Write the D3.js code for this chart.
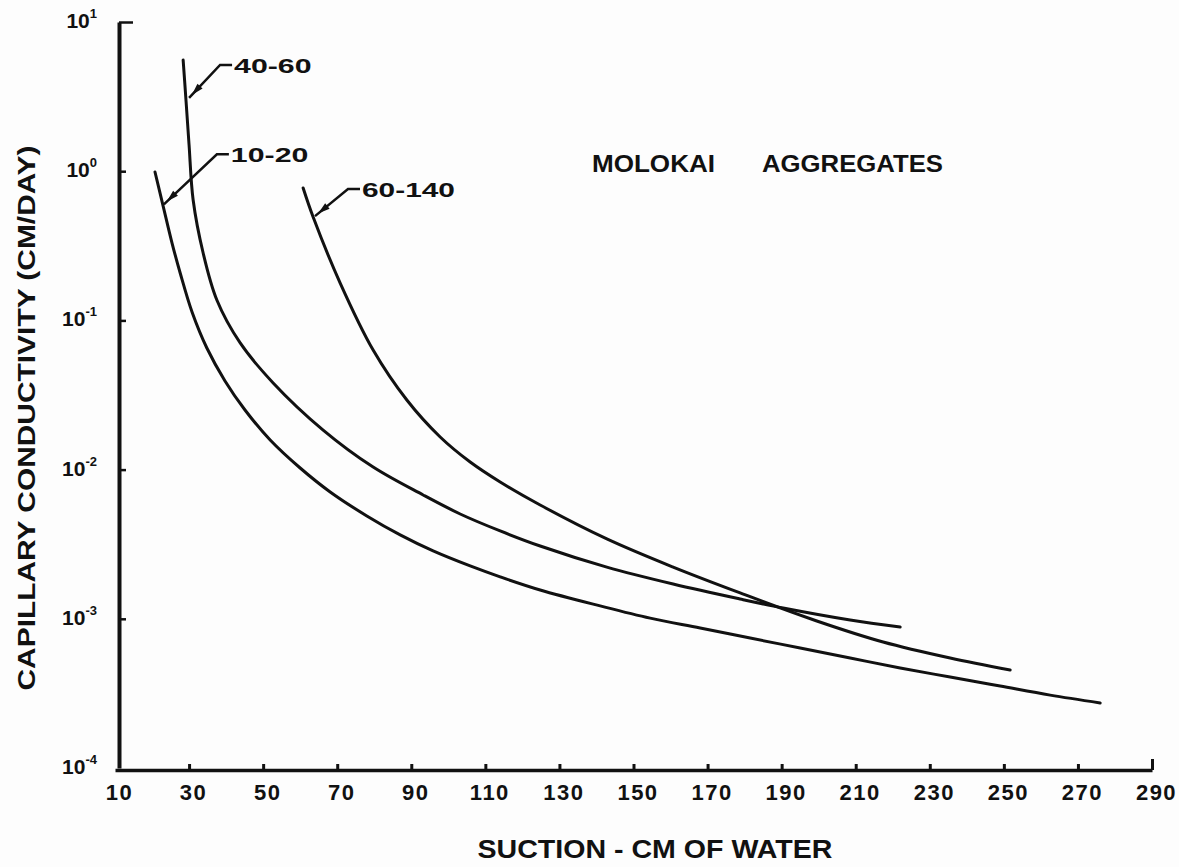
<!DOCTYPE html>
<html>
<head>
<meta charset="utf-8">
<script src="https://cdn.jsdelivr.net/npm/d3@7"></script>
<style>
  body { margin: 0; background: #fdfdfd; }
  text { font-family: "Liberation Sans", Arial, sans-serif; font-weight: bold; fill: #111; }
</style>
</head>
<body>
<div id="chart"></div>
<script>
// Suction (cm of water) ticks and conductivity decades
const suctionTicks = [10, 30, 50, 70, 90, 110, 130, 150, 170, 190, 210, 230, 250, 270, 290];
const decadeExponents = [1, 0, -1, -2, -3, -4];

// Curves: suction (cm) -> capillary conductivity (cm/day)
const suction1020 = [20.8, 23.0, 25.4, 27.6, 30.8, 34.8, 39.7, 45.1, 51.9, 60.0, 68.1, 78.0, 87.0, 95.9,
  105.9, 114.0, 124.8, 141.0, 154.5, 168.0, 181.5, 195.0, 208.5, 222.0, 235.5, 249.0, 262.5, 276.0];
const cond1020 = [0.988, 0.584, 0.33, 0.2078, 0.1138, 0.0653, 0.0393, 0.0251, 0.0158, 0.01025, 0.00708,
  0.00489, 0.00365, 0.00285, 0.00226, 0.00191, 0.00156, 0.00122, 0.00101, 0.000868, 0.000743, 0.000637,
  0.000546, 0.000468, 0.000407, 0.000354, 0.000308, 0.000273];

const suction4060 = [28.4, 29.2, 30.0, 31.1, 33.8, 37.5, 43.8, 52.7, 66.2, 79.7, 93.2, 103.2, 114.0, 124.8,
  142.8, 160.7, 178.8, 190.4, 208.5, 222.0];
const cond4060 = [5.56, 2.91, 1.498, 0.641, 0.283, 0.137, 0.0706, 0.0381, 0.0184, 0.0104, 0.00676, 0.00504,
  0.00388, 0.003075, 0.00222, 0.00171, 0.001357, 0.001182, 0.000982, 0.000881];

const suction60140 = [60.8, 63.5, 70.8, 79.7, 88.8, 97.8, 105.9, 114.0, 124.8, 142.8, 160.7, 178.8, 199.5,
  217.4, 235.5, 251.7];
const cond60140 = [0.772, 0.493, 0.178, 0.0633, 0.02927, 0.01654, 0.01124, 0.00826, 0.00579, 0.00343, 0.00222,
  0.00149, 0.000967, 0.000699, 0.000546, 0.000454];

const seriesNames = ['10-20', '40-60', '60-140'];
// point on each curve where the label's leader ends
const leaderSuction = [23.2, 30.0, 64.0];
const leaderCond = [0.6, 3.1, 0.5];

const width = 1179;
const height = 867;

const svg = d3.select('#chart')
  .append('svg')
  .attr('width', width)
  .attr('height', height);

const x = d3.scaleLinear().domain([10, 290]).range([115, 1152]);
const y = d3.scaleLog().domain([1e-4, 1e1]).range([768, 22]);

// x axis, ticks pointing up
const xAxis = svg.append('g')
  .attr('transform', `translate(0,${y(1e-4) + 2})`)
  .call(d3.axisBottom(x)
    .tickValues(suctionTicks)
    .tickSizeInner(-6)
    .tickSizeOuter(0)
    .tickPadding(14)
    .tickFormat(d => d));
xAxis.select('.domain').attr('stroke', '#111').attr('stroke-width', 3.5);
xAxis.selectAll('.tick line').attr('stroke', '#111').attr('stroke-width', 3)
  .filter(d => d === 10).remove();
xAxis.selectAll('.tick line').filter(d => d === 290).attr('y2', -11);
xAxis.selectAll('.tick text')
  .attr('dy', '0.71em')
  .attr('dx', 4)
  .style('font-size', '22px')
  .style('letter-spacing', '1.5px');

// y axis, ticks pointing right
const yAxis = svg.append('g')
  .attr('transform', `translate(${x(10) + 4},0)`)
  .call(d3.axisLeft(y)
    .tickValues(decadeExponents.map(e => Math.pow(10, e)))
    .tickSizeInner(-7)
    .tickSizeOuter(0)
    .tickPadding(22)
    .tickFormat(() => ''));
yAxis.select('.domain').attr('stroke', '#111').attr('stroke-width', 4);
yAxis.selectAll('.tick line').attr('stroke', '#111').attr('stroke-width', 2.5)
  .filter(d => d === 1e-4).remove();
yAxis.selectAll('.tick line').filter(d => d === 10).attr('x2', 14);

yAxis.selectAll('.tick text').each(function (d) {
  const t = d3.select(this).attr('dy', '0.55em');
  const e = Math.round(Math.log10(d));
  t.append('tspan').text('10').style('font-size', '21px');
  t.append('tspan').text(e).attr('dy', -10).style('font-size', '13px');
});

// axis titles
svg.append('text')
  .attr('x', 655)
  .attr('y', 858)
  .attr('text-anchor', 'middle')
  .attr('textLength', 355)
  .attr('lengthAdjust', 'spacingAndGlyphs')
  .style('font-size', '25px')
  .text('SUCTION - CM OF WATER');

svg.append('text')
  .attr('transform', 'translate(35,418) rotate(-90)')
  .attr('text-anchor', 'middle')
  .attr('textLength', 545)
  .attr('lengthAdjust', 'spacingAndGlyphs')
  .style('font-size', '24px')
  .text('CAPILLARY CONDUCTIVITY (CM/DAY)');

// title
svg.append('text')
  .attr('x', 592).attr('y', 172)
  .attr('textLength', 123).attr('lengthAdjust', 'spacingAndGlyphs')
  .style('font-size', '23px')
  .text('MOLOKAI');
svg.append('text')
  .attr('x', 762).attr('y', 172)
  .attr('textLength', 181).attr('lengthAdjust', 'spacingAndGlyphs')
  .style('font-size', '23px')
  .text('AGGREGATES');

// curves
const curves = [
  d3.zip(suction1020, cond1020),
  d3.zip(suction4060, cond4060),
  d3.zip(suction60140, cond60140)
];

const line = d3.line()
  .x(d => x(d[0]))
  .y(d => y(d[1]))
  .curve(d3.curveCatmullRom.alpha(0.5));

svg.selectAll('path.curve')
  .data(curves)
  .enter()
  .append('path')
  .attr('class', 'curve')
  .attr('d', line)
  .attr('fill', 'none')
  .attr('stroke', '#111')
  .attr('stroke-width', 3)
  .attr('stroke-linecap', 'round');

// labels with leader lines
const labelOffsets = [[53, -50], [31, -33], [33, -27]]; // px from curve point to dash start
seriesNames.forEach((name, i) => {
  const px = x(leaderSuction[i]);
  const py = y(leaderCond[i]);
  const [ox, oy] = labelOffsets[i];
  const g = svg.append('g');
  g.append('path')
    .attr('d', `M${px},${py}L${px + ox},${py + oy}L${px + ox + 12},${py + oy}`)
    .attr('fill', 'none')
    .attr('stroke', '#111')
    .attr('stroke-width', 2.5);
  // arrow head near the curve
  const ang = Math.atan2(oy, ox);
  const hx = px + Math.cos(ang) * 4;
  const hy = py + Math.sin(ang) * 4;
  const tx = px + Math.cos(ang) * 16;
  const ty = py + Math.sin(ang) * 16;
  const nx = -Math.sin(ang) * 3.5;
  const ny = Math.cos(ang) * 3.5;
  g.append('path')
    .attr('d', `M${hx},${hy}L${tx + nx},${ty + ny}L${tx - nx},${ty - ny}Z`)
    .attr('fill', '#111');
  g.append('text')
    .attr('x', px + ox + 14)
    .attr('y', py + oy + 8)
    .attr('textLength', name.length * 15.5)
    .attr('lengthAdjust', 'spacingAndGlyphs')
    .style('font-size', '21px')
    .text(name);
});
</script>
</body>
</html>
